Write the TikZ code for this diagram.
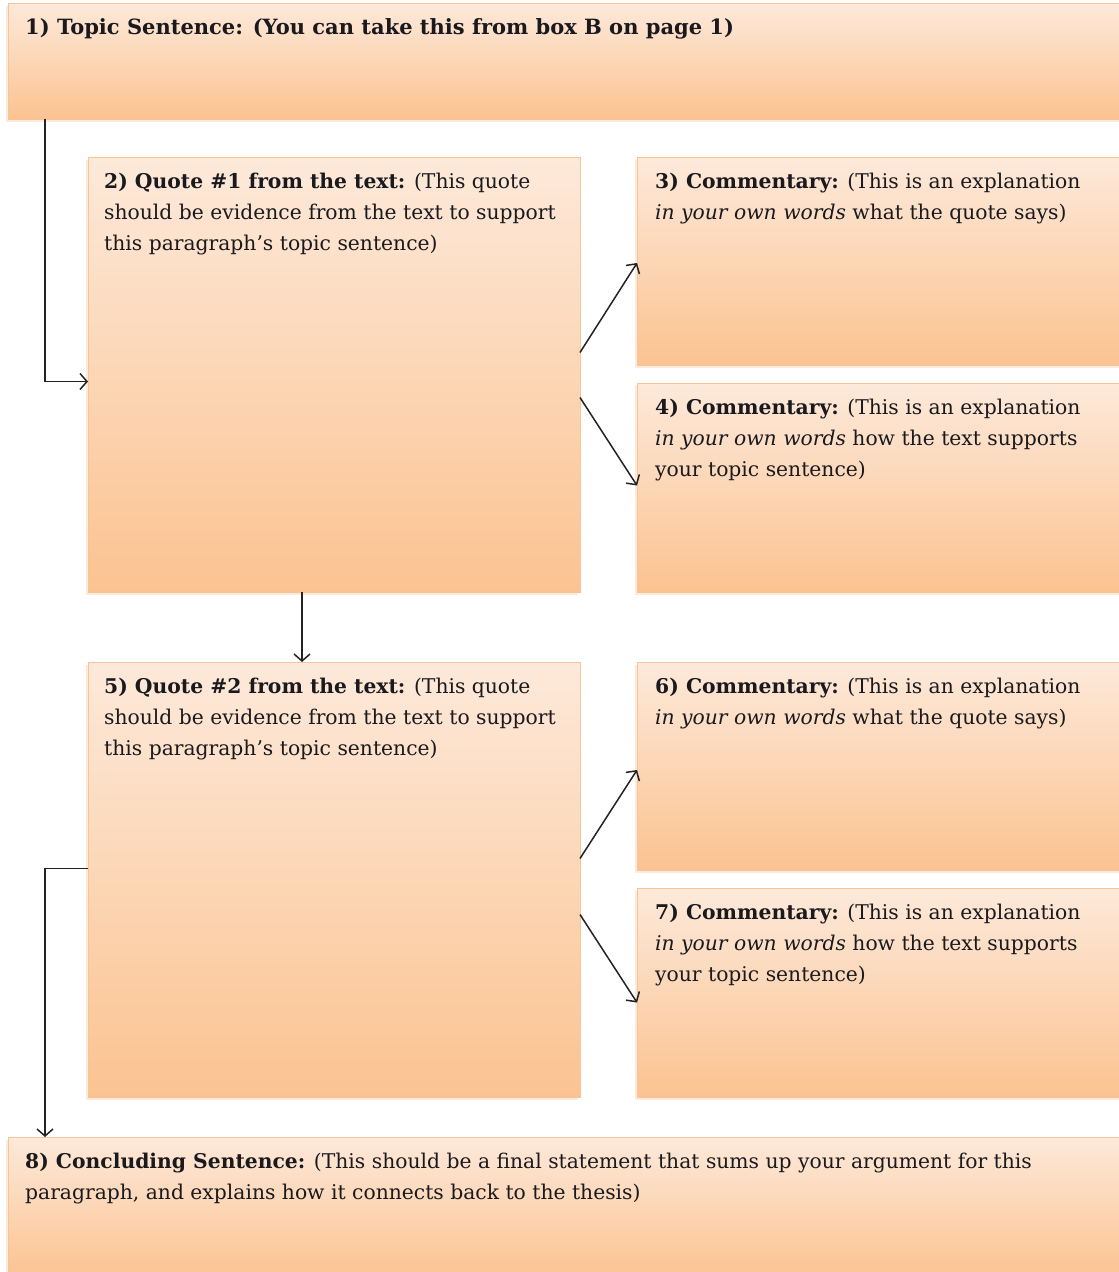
\documentclass[tikz,border=0pt]{standalone}
\usepackage{fontspec}
\setmainfont{DejaVu Serif}
\usetikzlibrary{arrows.meta,calc,shadows}
\definecolor{boxtop}{RGB}{253,233,218}
\definecolor{boxbot}{RGB}{251,195,145}
\definecolor{boxline}{RGB}{247,196,152}
\definecolor{arrowc}{RGB}{35,35,35}
\definecolor{textc}{RGB}{25,25,30}
\newcommand{\bodyfont}{\fontsize{20.3pt}{31pt}\selectfont}
\newcommand{\titlefont}{\fontsize{21pt}{31pt}\selectfont}
\tikzset{
  box/.style={draw=boxline, line width=1pt, top color=boxtop, bottom color=boxbot,
    anchor=north west, inner sep=0pt, outer sep=0pt,
    drop shadow={shadow xshift=-2pt, shadow yshift=-3pt, fill=boxline, opacity=0.35}},
  txt/.style={anchor=north west, align=left, inner sep=0pt, font=\bodyfont, text=textc},
  arr/.style={draw=arrowc, line width=1.5pt, -{Straight Barb[length=7pt,width=16pt,line width=1.5pt]}},
}
\begin{document}
\begin{tikzpicture}[x=1pt,y=-1pt]
\clip (0,0) rectangle (1119,1272);
\fill[white] (0,0) rectangle (1119,1272);
% boxes
\node[box, minimum width=1120pt, minimum height=116pt] (b1) at (8,3) {};
\node[box, minimum width=492pt, minimum height=435pt] (b2) at (88,157) {};
\node[box, minimum width=490pt, minimum height=208pt] (b3) at (637,157) {};
\node[box, minimum width=490pt, minimum height=209pt] (b4) at (637,383) {};
\node[box, minimum width=492pt, minimum height=435pt] (b5) at (88,662) {};
\node[box, minimum width=490pt, minimum height=208pt] (b6) at (637,662) {};
\node[box, minimum width=490pt, minimum height=209pt] (b7) at (637,888) {};
\node[box, minimum width=1120pt, minimum height=140pt] (b8) at (8,1137) {};
% texts
\node[txt, font=\titlefont] (t1) at ($(b1.north west)+(17,15)$) {\textbf{1) Topic Sentence: (You can take this from box B on page 1)}};
\node[txt] (t2) at ($(b2.north west)+(16,16)$) {\textbf{2) Quote \#1 from the text:} (This quote\\should be evidence from the text to support\\this paragraph’s topic sentence)};
\node[txt] (t3) at ($(b3.north west)+(18,16)$) {\textbf{3) Commentary:} (This is an explanation\\\textit{in your own words} what the quote says)};
\node[txt] (t4) at ($(b4.north west)+(18,16)$) {\textbf{4) Commentary:} (This is an explanation\\\textit{in your own words} how the text supports\\your topic sentence)};
\node[txt] (t5) at ($(b5.north west)+(16,16)$) {\textbf{5) Quote \#2 from the text:} (This quote\\should be evidence from the text to support\\this paragraph’s topic sentence)};
\node[txt] (t6) at ($(b6.north west)+(18,16)$) {\textbf{6) Commentary:} (This is an explanation\\\textit{in your own words} what the quote says)};
\node[txt] (t7) at ($(b7.north west)+(18,16)$) {\textbf{7) Commentary:} (This is an explanation\\\textit{in your own words} how the text supports\\your topic sentence)};
\node[txt] (t8) at ($(b8.north west)+(17,16)$) {\textbf{8) Concluding Sentence:} (This should be a final statement that sums up your argument for this\\paragraph, and explains how it connects back to the thesis)};
% connectors
\coordinate (c1) at ($(b1.south west)+(37,0)$);
\draw[arr] (c1) |- ($(b2.west)+(0,7)$);
\draw[arr] ($(b2.east)+(0,-22)$) -- ($(b3.west)+(0,2)$);
\draw[arr] ($(b2.east)+(0,23)$) -- ($(b4.west)+(0,-2)$);
\draw[arr] ($(b2.south west)+(214,0)$) -- ($(b5.north west)+(214,0)$);
\draw[arr] ($(b5.east)+(0,-21)$) -- ($(b6.west)+(0,4)$);
\draw[arr] ($(b5.east)+(0,35)$) -- ($(b7.west)+(0,10)$);
\coordinate (c2) at ($(b8.north west)+(37,0)$);
\draw[arr] ($(b5.west)+(0,-11)$) -| (c2);
\end{tikzpicture}
\end{document}
